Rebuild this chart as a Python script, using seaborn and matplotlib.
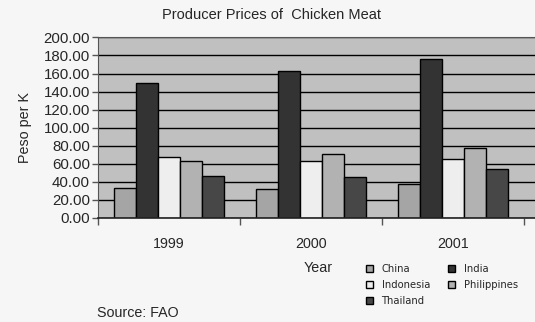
import matplotlib
matplotlib.use('Agg')
import matplotlib.pyplot as plt
import seaborn as sns
import pandas as pd

# Data
years = ['1999', '2000', '2001']
countries = ['China', 'India', 'Indonesia', 'Philippines', 'Thailand']
china = [32.6, 31.5, 37.0]
india = [149.0, 162.8, 175.8]
indonesia = [67.7, 63.3, 64.8]
philippines = [63.3, 71.0, 77.0]
thailand = [46.0, 45.5, 53.7]
colors = ['#a5a5a5', '#333333', '#eeeeee', '#b2b2b2', '#474747']

series = [china, india, indonesia, philippines, thailand]
rows = []
for name, vals in zip(countries, series):
    for yr, v in zip(years, vals):
        rows.append({'Year': yr, 'Country': name, 'Price': v})
df = pd.DataFrame(rows)

sns.set_style('white')
plt.rcParams['font.family'] = ['Liberation Sans', 'DejaVu Sans']

fig = plt.figure(figsize=(5.35, 3.22), dpi=100, facecolor='#f6f6f6')
ax = fig.add_axes([0.1837, 0.324, 0.8163, 0.5596])
ax.set_facecolor('#c0c0c0')

sns.barplot(data=df, x='Year', y='Price', hue='Country', hue_order=countries,
            palette=colors, width=0.775, gap=0, edgecolor='black', linewidth=1,
            saturation=1, ax=ax, legend=True)

ax.set_ylim(0, 200)
ax.set_xlim(-0.5, 2.58)
ax.set_yticks(range(0, 201, 20))
ax.set_yticklabels([f'{v:.2f}' for v in range(0, 201, 20)], fontsize=10.8)
ax.yaxis.grid(True, color='black', linewidth=1)
ax.set_axisbelow(True)
ax.tick_params(axis='y', direction='out', length=4, width=1, color='#555555', pad=2, left=True)
ax.tick_params(axis='x', which='major', length=0, pad=14, labelsize=10.3)
ax.set_xticks([-0.5, 0.5, 1.5, 2.5], minor=True)
ax.tick_params(axis='x', which='minor', direction='out', length=5, width=1,
               color='#555555', bottom=True)
ax.spines['right'].set_visible(False)
ax.spines['top'].set_color('#555555')
ax.spines['left'].set_color('#555555')
ax.spines['bottom'].set_color('#222222')
ax.spines['bottom'].set_linewidth(1.2)

ax.set_xlabel('')
ax.set_ylabel('Peso per K', fontsize=10.3, labelpad=8)

fig.text(0.507, 0.953, 'Producer Prices of  Chicken Meat', ha='center', va='center', fontsize=10.5)
fig.text(0.567, 0.168, 'Year', ha='left', va='center', fontsize=10.3)
fig.text(0.181, 0.028, 'Source: FAO', ha='left', va='center', fontsize=10.3)

handles, labels = ax.get_legend_handles_labels()
ax.get_legend().remove()
order = [0, 2, 4, 1, 3]
fig.legend([handles[i] for i in order], [labels[i] for i in order],
           loc='upper left', bbox_to_anchor=(0.674, 0.197), ncol=2, frameon=False,
           prop={'family': 'DejaVu Sans', 'size': 7.2}, handlelength=0.7, handleheight=0.7,
           handletextpad=0.9, columnspacing=1.8, labelspacing=0.6, borderpad=0)

fig.savefig('out.png', dpi=100, facecolor=fig.get_facecolor())
